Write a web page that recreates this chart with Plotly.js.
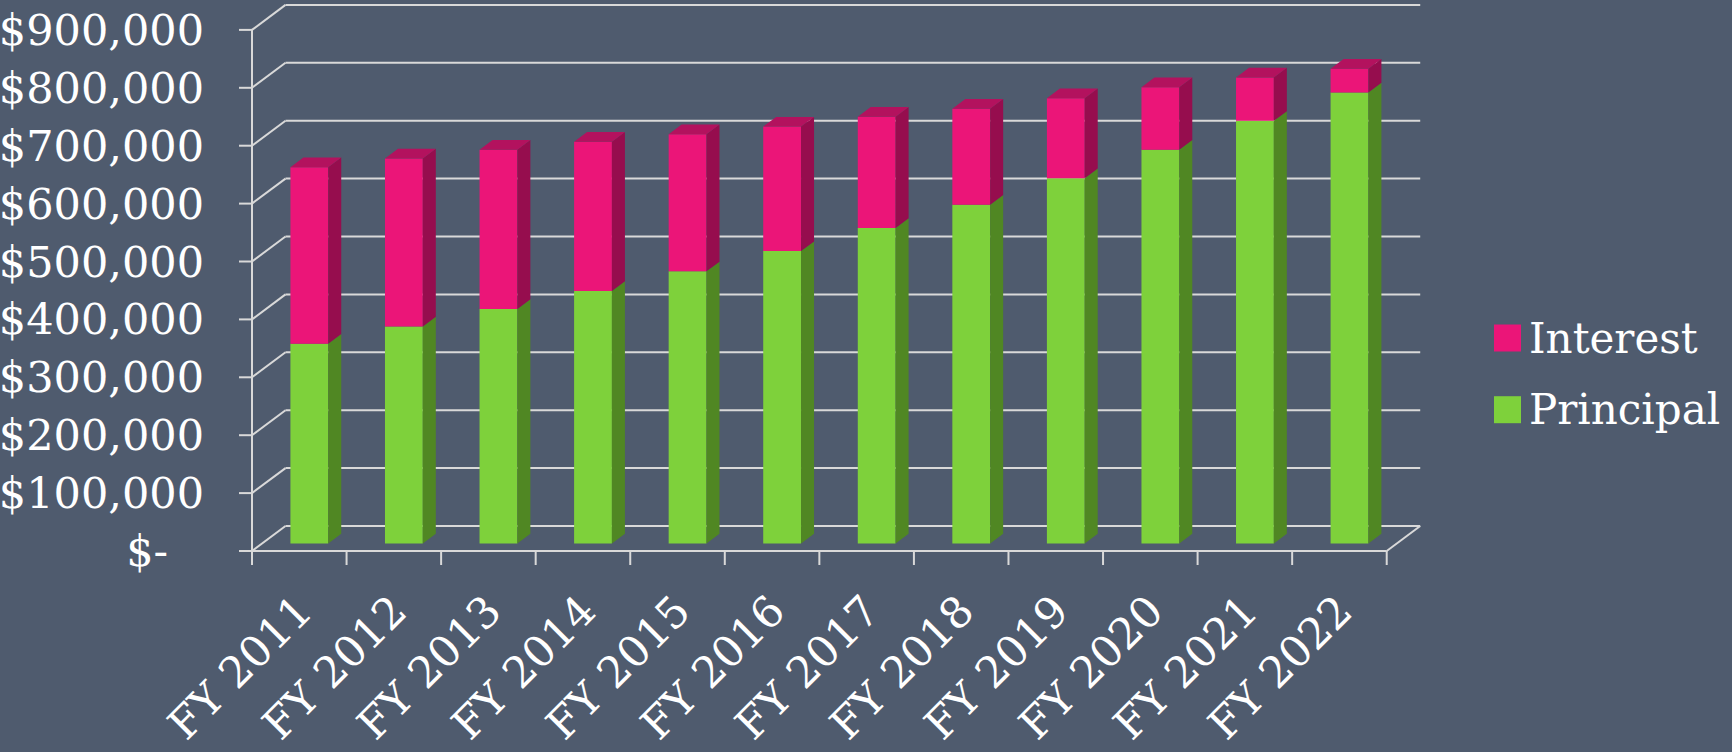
<!DOCTYPE html>
<html>
<head>
<meta charset="utf-8">
<script src="https://cdn.plot.ly/plotly-3.0.1.min.js"></script>
<style>
  html, body { margin: 0; padding: 0; background: #4f5b6e; }
  #chart { width: 1732px; height: 752px; }
</style>
</head>
<body>
<div id="chart"></div>
<script>
// ---- data ----
const categories = ["FY 2011", "FY 2012", "FY 2013", "FY 2014", "FY 2015", "FY 2016",
                    "FY 2017", "FY 2018", "FY 2019", "FY 2020", "FY 2021", "FY 2022"];
const principal = [345000, 375000, 405000, 436000, 470000, 505000,
                   545000, 585000, 631000, 680000, 730000, 779000];
const interest  = [305000, 290000, 275000, 258000, 237000, 215000,
                   192000, 166000, 138000, 108000, 75000, 41000];
const yTickVals = [0, 100000, 200000, 300000, 400000, 500000, 600000, 700000, 800000, 900000];
const yTickText = ["$-\u00a0\u00a0\u2009", "$100,000", "$200,000", "$300,000", "$400,000",
                   "$500,000", "$600,000", "$700,000", "$800,000", "$900,000"];
const seriesNames = ["Interest", "Principal"];

// ---- style / geometry ----
const BG = "#4f5b6e";
const GRID = "#d9d9d9";
const PINK = "#eb1578", PINK_SIDE = "#960d4e", PINK_TOP = "#b3125e";
const GREEN = "#7ed13b", GREEN_SIDE = "#508723";
const FONT = "DejaVu Serif";
const FS = 43;

const W = 1732, H = 752;
const X0PX = 252, UX = 94.56;       // pixel of x=-0.5, px per category
const Y0PX = 551, UY = 0.000579;    // pixel of value 0, px per unit value
const PL = 230, PR = 1424, PT = 2, PB = 576;   // plot area pixels
const xr = [-0.5 + (PL - X0PX) / UX, -0.5 + (PR - X0PX) / UX];
const yr = [(Y0PX - PB) / UY, (Y0PX - PT) / UY];
const DX = 33.5 / UX, DY = 25 / UY;             // full depth of the 3D box
const F0 = 0.30, FD = 0.388, BW = 0.40;         // bar depth position / thickness / width
const n = categories.length;
const first = -0.5, last = n - 0.5;

// ---- frame & gridlines ----
const shapes = [];
function line(x0, y0, x1, y1) {
  shapes.push({type: "line", xref: "x", yref: "y", x0, y0, x1, y1, layer: "below",
               line: {color: GRID, width: 2}});
}
const tickLenX = 13 / UX, tickLenY = 14 / UY;
yTickVals.forEach(v => {
  line(first + DX, v + DY, last + DX, v + DY);   // back wall
  line(first, v, first + DX, v + DY);            // side wall diagonal
  line(first - tickLenX, v, first, v);           // y tick
});
line(first, -tickLenY, first, yTickVals[yTickVals.length - 1]);  // y axis
line(first, 0, last, 0);                                          // floor front edge
line(last, 0, last + DX, DY);                                     // floor right edge
for (let k = 0; k <= n; k++) line(first + k, 0, first + k, -tickLenY);  // x ticks

// ---- bars ----
const xs = categories.map((c, i) => i + F0 * DX);
const base0 = categories.map(() => F0 * DY);
const base1 = principal.map(p => F0 * DY + p);
const traces = [];

function poly(list, color) {
  const px = [], py = [];
  list.forEach(pts => { pts.forEach(p => { px.push(p[0]); py.push(p[1]); }); px.push(null); py.push(null); });
  return {type: "scatter", x: px, y: py, mode: "lines", fill: "toself", fillcolor: color,
          line: {width: 0, color: color}, showlegend: false, hoverinfo: "skip"};
}
const sdx = FD * DX, sdy = FD * DY;
const greenSides = [], pinkSides = [], pinkTops = [];
categories.forEach((c, i) => {
  const xl = xs[i] - BW / 2, xrr = xs[i] + BW / 2;
  const b = base0[i], m = base1[i], t = base1[i] + interest[i];
  greenSides.push([[xrr, b], [xrr + sdx, b + sdy], [xrr + sdx, m + sdy], [xrr, m]]);
  pinkSides.push([[xrr, m], [xrr + sdx, m + sdy], [xrr + sdx, t + sdy], [xrr, t]]);
  pinkTops.push([[xl, t], [xl + sdx, t + sdy], [xrr + sdx, t + sdy], [xrr, t]]);
});
traces.push(poly(greenSides, GREEN_SIDE));
traces.push(poly(pinkSides, PINK_SIDE));
traces.push(poly(pinkTops, PINK_TOP));
traces.push({type: "bar", name: seriesNames[1], x: xs, y: principal, base: base0, width: BW,
             marker: {color: GREEN, line: {width: 0}}, showlegend: false, hoverinfo: "skip"});
traces.push({type: "bar", name: seriesNames[0], x: xs, y: interest, base: base1, width: BW,
             marker: {color: PINK, line: {width: 0}}, showlegend: false, hoverinfo: "skip"});

// ---- manual legend ----
const pxX = p => (p - PL) / (PR - PL);
const pxY = p => (PB - p) / (PB - PT);
const legendColors = [PINK, GREEN];
const legendCenters = [338, 409.7];
const annotations = [];
seriesNames.forEach((name, k) => {
  const cy = legendCenters[k];
  shapes.push({type: "rect", xref: "paper", yref: "paper", x0: pxX(1494), x1: pxX(1521),
               y0: pxY(cy + 13.5), y1: pxY(cy - 13.5), fillcolor: legendColors[k],
               line: {width: 0}});
  annotations.push({xref: "paper", yref: "paper", x: pxX(1527), y: pxY(cy), xanchor: "left",
                    yanchor: "middle", showarrow: false, text: name,
                    font: {family: FONT, size: 42, color: "#ffffff"}});
});

const layout = {
  width: W, height: H, autosize: false,
  paper_bgcolor: BG, plot_bgcolor: BG,
  margin: {l: PL, r: W - PR, t: PT, b: H - PB, pad: 0},
  showlegend: false, hovermode: false, barmode: "overlay",
  font: {family: FONT, size: FS, color: "#ffffff"},
  xaxis: {range: xr, tickmode: "array", tickvals: categories.map((c, i) => i), ticktext: categories,
          tickangle: -45, ticks: "", showgrid: false, zeroline: false, showline: false,
          tickfont: {family: FONT, size: FS, color: "#ffffff"}, fixedrange: true},
  yaxis: {range: yr, tickmode: "array", tickvals: yTickVals, ticktext: yTickText,
          ticks: "", showgrid: false, zeroline: false, showline: false, ticklabelstandoff: 25,
          tickfont: {family: FONT, size: FS, color: "#ffffff"}, fixedrange: true},
  shapes, annotations
};
Plotly.newPlot("chart", traces, layout, {displayModeBar: false, staticPlot: true});
</script>
</body>
</html>
